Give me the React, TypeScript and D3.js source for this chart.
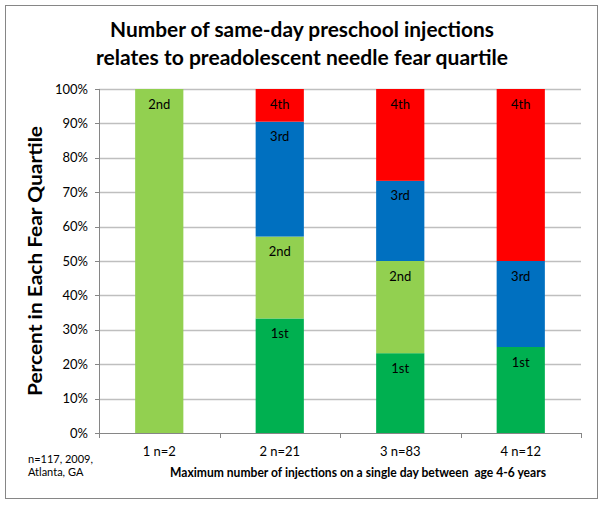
import React from "react";
import * as d3 from "d3";

const categories = ["1 n=2", "2 n=21", "3 n=83", "4 n=12"];
const quartiles = ["1st", "2nd", "3rd", "4th"];
const first = [0, 33.3, 23.2, 25];
const second = [100, 23.8, 26.8, 0];
const third = [0, 33.4, 23.3, 25];
const fourth = [0, 9.5, 26.7, 50];
const yTicks = [0, 10, 20, 30, 40, 50, 60, 70, 80, 90, 100];
const colors = ["#00B050", "#92D050", "#0070C0", "#FF0000"];

const W = 604;
const H = 505;
const FONT = "Lato, 'Open Sans', 'Liberation Sans', sans-serif";

export default function App() {
  const left = 99, right = 581, top = 89, bottom = 433;
  const x = d3.scaleBand<string>().domain(categories).range([left, right]).paddingInner(0.6).paddingOuter(0.3);
  const y = d3.scaleLinear().domain([0, 100]).range([bottom, top]);
  const series = [first, second, third, fourth];
  const rows = categories.map((c, i) => {
    const r: any = { cat: c };
    quartiles.forEach((q, k) => (r[q] = series[k][i]));
    return r;
  });
  const stacked = d3.stack<any>().keys(quartiles)(rows);
  const step = x.step();
  const boundaries = d3.range(categories.length + 1).map((i) => left + i * step);

  return (
    <svg width={W} height={H} style={{ position: "absolute", left: 0, top: 0, background: "#fff" }} fontFamily={FONT}>
      <rect x={5.5} y={5.5} width={592} height={493} fill="#fff" stroke="#868686" strokeWidth={1} />
      <text x={302} y={37} textAnchor="middle" fontSize={20} fontWeight="bold" textLength={384} lengthAdjust="spacingAndGlyphs">
        Number of same-day preschool injections
      </text>
      <text x={302} y={65} textAnchor="middle" fontSize={20} fontWeight="bold" textLength={412} lengthAdjust="spacingAndGlyphs">
        relates to preadolescent needle fear quartile
      </text>
      {yTicks.map((t) => (
        <g key={t}>
          {t > 0 && <line x1={left} x2={right} y1={Math.round(y(t)) + 0.5} y2={Math.round(y(t)) + 0.5} stroke="#BFBFBF" strokeWidth={1.3} />}
          <line x1={left - 4} x2={left} y1={Math.round(y(t)) + 0.5} y2={Math.round(y(t)) + 0.5} stroke="#868686" />
          <text x={88} y={y(t)} dy="0.35em" textAnchor="end" fontSize={13} fill="#000">
            {t}%
          </text>
        </g>
      ))}
      {stacked.map((s, k) =>
        s.map((d, i) => {
          const v = d[1] - d[0];
          if (v <= 0) return null;
          const cat = categories[i];
          return (
            <g key={`${k}-${i}`}>
              <rect x={x(cat)} y={y(d[1])} width={x.bandwidth()} height={y(d[0]) - y(d[1])} fill={colors[k]} />
              <text x={(x(cat) as number) + x.bandwidth() / 2} y={y(d[1]) + 15} dy="0.35em" textAnchor="middle" fontSize={13} fill="#000">
                {quartiles[k]}
              </text>
            </g>
          );
        })
      )}
      <line x1={left + 0.5} x2={left + 0.5} y1={top} y2={bottom} stroke="#868686" />
      <line x1={left} x2={right} y1={bottom + 0.5} y2={bottom + 0.5} stroke="#868686" />
      {boundaries.map((b, i) => (
        <line key={i} x1={Math.round(b) + 0.5} x2={Math.round(b) + 0.5} y1={bottom} y2={bottom + 5} stroke="#868686" />
      ))}
      {categories.map((c) => (
        <text key={c} x={(x(c) as number) + x.bandwidth() / 2} y={456} textAnchor="middle" fontSize={13} fill="#000">
          {c}
        </text>
      ))}
      <text x={358} y={477} textAnchor="middle" fontSize={13} fontWeight="bold" textLength={376} lengthAdjust="spacingAndGlyphs" style={{ whiteSpace: "pre" }}>
        {"Maximum number of injections on a single day between  age 4-6 years"}
      </text>
      <text x={28} y={463} fontSize={11} fill="#000">n=117, 2009,</text>
      <text x={28} y={476} fontSize={11} fill="#000">Atlanta, GA</text>
      <text
        transform={`translate(42, ${(top + bottom) / 2}) rotate(-90)`}
        textAnchor="middle"
        fontSize={19}
        fontWeight="bold"
        textLength={270}
        lengthAdjust="spacingAndGlyphs"
      >
        Percent in Each Fear Quartile
      </text>
    </svg>
  );
}
